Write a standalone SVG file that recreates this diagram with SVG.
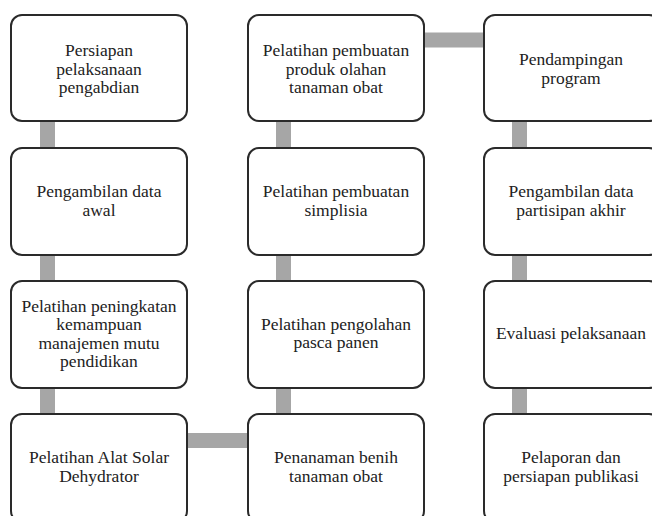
<svg xmlns="http://www.w3.org/2000/svg" width="652" height="516" viewBox="0 0 652 516">
<style>
.box{fill:#fff;stroke:#2a2a2a;stroke-width:2}
.t{font-family:"Liberation Serif","Times New Roman",serif;font-size:17.5px;fill:#222;text-anchor:middle}
.c{stroke:#a6a6a6;stroke-width:15;fill:none}
</style>
<rect width="652" height="516" fill="#fff"/>
<g id="connectors">
<line class="c" x1="47.5" y1="121" x2="47.5" y2="148"/>
<line class="c" x1="47.5" y1="255" x2="47.5" y2="281"/>
<line class="c" x1="47.5" y1="388" x2="47.5" y2="414"/>
<line class="c" x1="187" y1="440.5" x2="248" y2="440.5"/>
<line class="c" x1="283.5" y1="388" x2="283.5" y2="414"/>
<line class="c" x1="283.5" y1="255" x2="283.5" y2="281"/>
<line class="c" x1="283.5" y1="121" x2="283.5" y2="148"/>
<line class="c" x1="424" y1="40" x2="484" y2="40"/>
<line class="c" x1="519.5" y1="121" x2="519.5" y2="148"/>
<line class="c" x1="519.5" y1="255" x2="519.5" y2="281"/>
<line class="c" x1="519.5" y1="388" x2="519.5" y2="414"/>
</g>
<g id="n1"><rect class="box" x="11" y="15" width="176" height="106" rx="11"/>
<text class="t" x="99" y="56">Persiapan</text><text class="t" x="99" y="74.5">pelaksanaan</text><text class="t" x="99" y="93">pengabdian</text></g>
<g id="n2"><rect class="box" x="11" y="148" width="176" height="107" rx="11"/>
<text class="t" x="99" y="197">Pengambilan  data</text><text class="t" x="99" y="215.5">awal</text></g>
<g id="n3"><rect class="box" x="11" y="281" width="176" height="107" rx="11"/>
<text class="t" x="99" y="311.5">Pelatihan  peningkatan</text><text class="t" x="99" y="330">kemampuan</text><text class="t" x="99" y="348.5">manajemen  mutu</text><text class="t" x="99" y="367">pendidikan</text></g>
<g id="n4"><rect class="box" x="11" y="414" width="176" height="108" rx="11"/>
<text class="t" x="99" y="463">Pelatihan  Alat  Solar</text><text class="t" x="99" y="481.5">Dehydrator</text></g>
<g id="n5"><rect class="box" x="248" y="414" width="176" height="108" rx="11"/>
<text class="t" x="336" y="463">Penanaman  benih</text><text class="t" x="336" y="481.5">tanaman  obat</text></g>
<g id="n6"><rect class="box" x="248" y="281" width="176" height="107" rx="11"/>
<text class="t" x="336" y="329.5">Pelatihan  pengolahan</text><text class="t" x="336" y="348">pasca panen</text></g>
<g id="n7"><rect class="box" x="248" y="148" width="176" height="107" rx="11"/>
<text class="t" x="336" y="197">Pelatihan  pembuatan</text><text class="t" x="336" y="215.5">simplisia</text></g>
<g id="n8"><rect class="box" x="248" y="15" width="176" height="106" rx="11"/>
<text class="t" x="336" y="56">Pelatihan  pembuatan</text><text class="t" x="336" y="74.5">produk olahan</text><text class="t" x="336" y="93">tanaman  obat</text></g>
<g id="n9"><rect class="box" x="484" y="15" width="176" height="106" rx="11"/>
<text class="t" x="571" y="65">Pendampingan</text><text class="t" x="571" y="83.5">program</text></g>
<g id="n10"><rect class="box" x="484" y="148" width="176" height="107" rx="11"/>
<text class="t" x="571" y="197">Pengambilan  data</text><text class="t" x="571" y="215.5">partisipan akhir</text></g>
<g id="n11"><rect class="box" x="484" y="281" width="176" height="107" rx="11"/>
<text class="t" x="571" y="339">Evaluasi  pelaksanaan</text></g>
<g id="n12"><rect class="box" x="484" y="414" width="176" height="108" rx="11"/>
<text class="t" x="571" y="463">Pelaporan dan</text><text class="t" x="571" y="481.5">persiapan publikasi</text></g>
</svg>
